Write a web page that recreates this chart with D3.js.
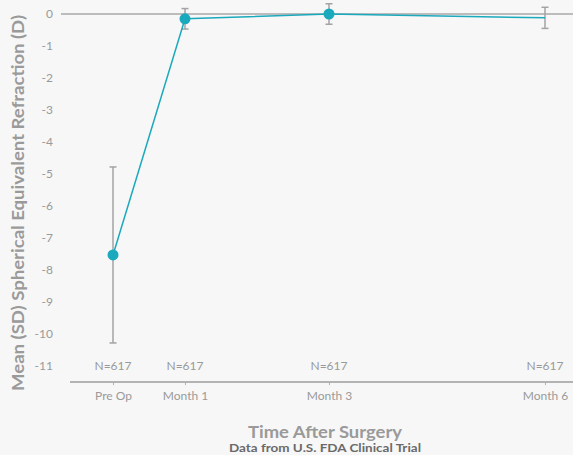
<!DOCTYPE html>
<html>
<head>
<meta charset="utf-8">
<script src="https://cdn.jsdelivr.net/npm/d3@7"></script>
<style>
  html, body { margin: 0; padding: 0; background: #f7f7f7; }
  svg { display: block; font-family: Lato, "Open Sans", sans-serif; }
</style>
</head>
<body>
<svg id="chart" width="573" height="455"></svg>
<script>
// Visit labels and their time after surgery (months)
const visits = ["Pre Op", "Month 1", "Month 3", "Month 6"];
const months = [0, 1, 3, 6];
// Mean spherical equivalent refraction (D) and its standard deviation
const meanSE = [-7.53, -0.15, 0.0, -0.12];
const sdSE = [2.75, 0.32, 0.32, 0.33];
// Subjects at each visit
const nSubjects = [617, 617, 617, 617];
// Which visits show a point marker
const showMarker = [true, true, true, false];
const yTicks = [0, -1, -2, -3, -4, -5, -6, -7, -8, -9, -10, -11];

const svg = d3.select("#chart");
const W = 573, H = 455;

const x = d3.scaleLinear().domain([0, 6]).range([113, 545]);
const y = d3.scaleLinear().domain([-11.5, 0]).range([382, 14]);

const teal = "#1ba9bd";
const grey = "#a3a3a3";

// Zero reference line
svg.append("line")
  .attr("x1", 61).attr("x2", W)
  .attr("y1", y(0)).attr("y2", y(0))
  .attr("stroke", "#a8a8a8").attr("stroke-width", 1.5);

// Y axis labels (no axis line)
const yAxis = svg.append("g")
  .attr("transform", "translate(53,0)")
  .call(d3.axisLeft(y).tickValues(yTicks).tickSize(0).tickPadding(0)
    .tickFormat(d => d === 0 ? "0" : String(d)));
yAxis.select(".domain").remove();
yAxis.selectAll("text")
  .attr("fill", "#9a9a9a").attr("font-size", 12)
  .attr("font-family", "Lato, 'Open Sans', sans-serif");

// X axis
const xAxisG = svg.append("g")
  .attr("transform", `translate(0,${y(-11.5)})`)
  .call(d3.axisBottom(x).tickValues(months).tickSize(3).tickPadding(6)
    .tickFormat((d, i) => visits[i]));
xAxisG.select(".domain")
  .attr("d", `M70,0H${W}`)
  .attr("stroke", "#9c9c9c").attr("stroke-width", 1.5);
xAxisG.selectAll(".tick line").attr("stroke", "#b0b0b0");
xAxisG.selectAll("text")
  .attr("fill", "#9a9a9a").attr("font-size", 12)
  .attr("font-family", "Lato, 'Open Sans', sans-serif");

// Sample size labels
svg.append("g").selectAll("text")
  .data(nSubjects)
  .join("text")
  .attr("x", (d, i) => x(months[i]))
  .attr("y", y(-11) + 4)
  .attr("text-anchor", "middle")
  .attr("fill", "#9a9a9a").attr("font-size", 12)
  .text(d => "N=" + d);

// Error bars (mean ± SD)
const eb = svg.append("g").attr("stroke", grey).attr("stroke-width", 1.5);
meanSE.forEach((m, i) => {
  const cx = x(months[i]);
  const top = y(m + sdSE[i]), bot = y(m - sdSE[i]);
  eb.append("line").attr("x1", cx).attr("x2", cx).attr("y1", top).attr("y2", bot);
  eb.append("line").attr("x1", cx - 3.5).attr("x2", cx + 3.5).attr("y1", top).attr("y2", top);
  eb.append("line").attr("x1", cx - 3.5).attr("x2", cx + 3.5).attr("y1", bot).attr("y2", bot);
});

// Mean line
const pts = meanSE.map((m, i) => [x(months[i]), y(m)]);
svg.append("path")
  .attr("d", d3.line()(pts))
  .attr("fill", "none").attr("stroke", teal).attr("stroke-width", 1.5);

// Markers
svg.append("g").selectAll("circle")
  .data(pts.filter((p, i) => showMarker[i]))
  .join("circle")
  .attr("cx", d => d[0]).attr("cy", d => d[1])
  .attr("r", 5.5).attr("fill", teal);

// Axis titles
svg.append("text")
  .attr("transform", `translate(24,${(14 + 392) / 2}) rotate(-90)`)
  .attr("text-anchor", "middle")
  .attr("fill", "#9a9a9a").attr("font-size", 17.5).attr("font-weight", "bold")
  .attr("textLength", 376).attr("lengthAdjust", "spacingAndGlyphs")
  .text("Mean (SD) Spherical Equivalent Refraction (D)");

svg.append("text")
  .attr("x", 325).attr("y", 438)
  .attr("text-anchor", "middle")
  .attr("fill", "#9a9a9a").attr("font-size", 17.5).attr("font-weight", "bold")
  .attr("textLength", 154).attr("lengthAdjust", "spacingAndGlyphs")
  .text("Time After Surgery");

svg.append("text")
  .attr("x", 325).attr("y", 452)
  .attr("text-anchor", "middle")
  .attr("fill", "#6a6a6a").attr("font-size", 11.5).attr("font-weight", "bold")
  .attr("textLength", 192).attr("lengthAdjust", "spacingAndGlyphs")
  .text("Data from U.S. FDA Clinical Trial");
</script>
</body>
</html>
